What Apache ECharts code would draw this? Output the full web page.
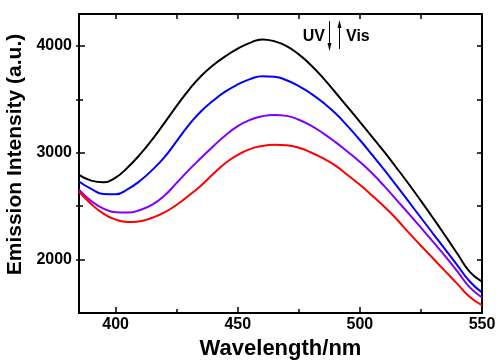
<!DOCTYPE html>
<html>
<head>
<meta charset="utf-8">
<script src="https://cdn.jsdelivr.net/npm/echarts@6/dist/echarts.min.js"></script>
<style>
  html, body { margin: 0; padding: 0; background: #fff; }
  #chart { width: 496px; height: 360px; }
</style>
</head>
<body>
<div id="chart"></div>
<script>
// wavelength grid (nm)
const wavelengths = [385, 390, 395, 400, 405, 410, 415, 420, 425, 430, 435, 440, 445, 450, 455, 460, 465,
  470, 475, 480, 485, 490, 495, 500, 505, 510, 515, 520, 525, 530, 535, 540, 545, 550];

// emission intensity
const blackCurve = [2794, 2740, 2724, 2768, 2865, 2985, 3125, 3280, 3440, 3590, 3720, 3822, 3905, 3975, 4030, 4062, 4045,
  4000, 3922, 3820, 3700, 3565, 3428, 3290, 3150, 3008, 2860, 2708, 2550, 2388, 2222, 2052, 1885, 1794];
const blueCurve = [2732, 2662, 2614, 2612, 2660, 2738, 2840, 2960, 3110, 3262, 3390, 3490, 3575, 3640, 3690, 3718, 3712,
  3680, 3625, 3555, 3470, 3370, 3250, 3120, 2982, 2840, 2692, 2542, 2392, 2242, 2094, 1944, 1795, 1692];
const purpleCurve = [2654, 2548, 2478, 2443, 2440, 2464, 2514, 2600, 2718, 2840, 2953, 3062, 3165, 3250, 3308, 3343, 3355,
  3346, 3310, 3255, 3182, 3100, 3010, 2915, 2808, 2688, 2560, 2430, 2299, 2166, 2030, 1888, 1740, 1645];
const redCurve = [2638, 2520, 2430, 2374, 2352, 2360, 2392, 2442, 2514, 2600, 2695, 2803, 2905, 2981, 3035, 3064, 3075,
  3070, 3047, 3003, 2947, 2880, 2792, 2700, 2600, 2495, 2380, 2252, 2130, 2010, 1890, 1770, 1650, 1573];

const xMajorTicks = [400, 450, 500, 550];
const xMinorTicks = [425, 475, 525];
const yMajorTicks = [2000, 3000, 4000];
const yMinorTicks = [2500, 3500];

const fontFamily = '"Liberation Sans", Arial, sans-serif';
const ink = "#000";

const chart = echarts.init(document.getElementById("chart"));

const frameLine = { show: true, onZero: false, lineStyle: { color: ink, width: 2 } };
const tickStyle = { color: ink, width: 1.5 };
const labelStyle = { color: ink, fontSize: 16, fontWeight: "bold", fontFamily };
const titleStyle = { color: ink, fontSize: 22, fontWeight: "bold", fontFamily };

function xAxisBase(position) {
  return {
    type: "value",
    position,
    min: 385,
    max: 550,
    splitLine: { show: false },
    axisLabel: { show: false },
    axisLine: { show: false },
  };
}

function yAxisBase(position) {
  return {
    type: "value",
    position,
    min: 1500,
    max: 4300,
    splitLine: { show: false },
    axisLabel: { show: false },
    axisLine: { show: false },
  };
}

function curve(name, color, values) {
  return {
    name,
    type: "line",
    xAxisIndex: 0,
    yAxisIndex: 0,
    showSymbol: false,
    smooth: 0.5,
    lineStyle: { color, width: 2 },
    data: wavelengths.map((w, i) => [w, values[i]]),
  };
}

chart.setOption({
  animation: false,
  backgroundColor: "#fff",
  grid: { left: 79, right: 14, top: 14, bottom: 47, containLabel: false, outerBoundsMode: "none" },
  xAxis: [
    {
      ...xAxisBase("bottom"),
      axisLine: frameLine,
      axisTick: { inside: true, length: 6, lineStyle: tickStyle, customValues: xMajorTicks },
      axisLabel: { ...labelStyle, margin: 4, customValues: xMajorTicks },
      name: "Wavelength/nm",
      nameLocation: "middle",
      nameGap: 24,
      nameTextStyle: titleStyle,
    },
    {
      ...xAxisBase("bottom"),
      axisTick: { inside: true, length: 4, lineStyle: tickStyle, customValues: xMinorTicks },
    },
    {
      ...xAxisBase("top"),
      axisLine: frameLine,
      axisTick: { inside: true, length: 5, lineStyle: tickStyle, customValues: xMajorTicks.concat(xMinorTicks) },
    },
  ],
  yAxis: [
    {
      ...yAxisBase("left"),
      axisLine: frameLine,
      axisTick: { inside: true, length: 6, lineStyle: tickStyle, customValues: yMajorTicks },
      axisLabel: { ...labelStyle, margin: 7, customValues: yMajorTicks, formatter: (v) => String(v) },
      name: "Emission Intensity (a.u.)",
      nameLocation: "middle",
      nameGap: 42,
      nameTextStyle: { ...titleStyle, fontSize: 21, padding: [0, 0, 0, 18] },
    },
    {
      ...yAxisBase("left"),
      axisTick: { inside: true, length: 4, lineStyle: tickStyle, customValues: yMinorTicks },
    },
    {
      ...yAxisBase("left"),
      axisTick: { inside: false, length: 3, lineStyle: tickStyle, customValues: yMajorTicks.concat(yMinorTicks) },
    },
    {
      ...yAxisBase("right"),
      axisLine: frameLine,
      axisTick: { inside: true, length: 5, lineStyle: tickStyle, customValues: yMajorTicks.concat(yMinorTicks) },
    },
  ],
  series: [
    curve("black", "#000000", blackCurve),
    curve("blue", "#0000ff", blueCurve),
    curve("purple", "#8000ff", purpleCurve),
    curve("red", "#ff0000", redCurve),
  ],
  graphic: [
    {
      type: "text",
      x: 325,
      y: 37,
      style: { text: "UV", fill: ink, font: "bold 16px " + fontFamily, align: "right", verticalAlign: "middle" },
    },
    {
      type: "text",
      x: 346,
      y: 37,
      style: { text: "Vis", fill: ink, font: "bold 16px " + fontFamily, align: "left", verticalAlign: "middle" },
    },
    { type: "line", shape: { x1: 329.5, y1: 21, x2: 329.5, y2: 44 }, style: { stroke: ink, lineWidth: 1 } },
    { type: "polygon", shape: { points: [[327.5, 43], [331.5, 43], [329.5, 51]] }, style: { fill: ink } },
    { type: "line", shape: { x1: 339.5, y1: 27, x2: 339.5, y2: 49 }, style: { stroke: ink, lineWidth: 1 } },
    { type: "polygon", shape: { points: [[337.5, 28], [341.5, 28], [339.5, 20]] }, style: { fill: ink } },
  ],
});
</script>
</body>
</html>
